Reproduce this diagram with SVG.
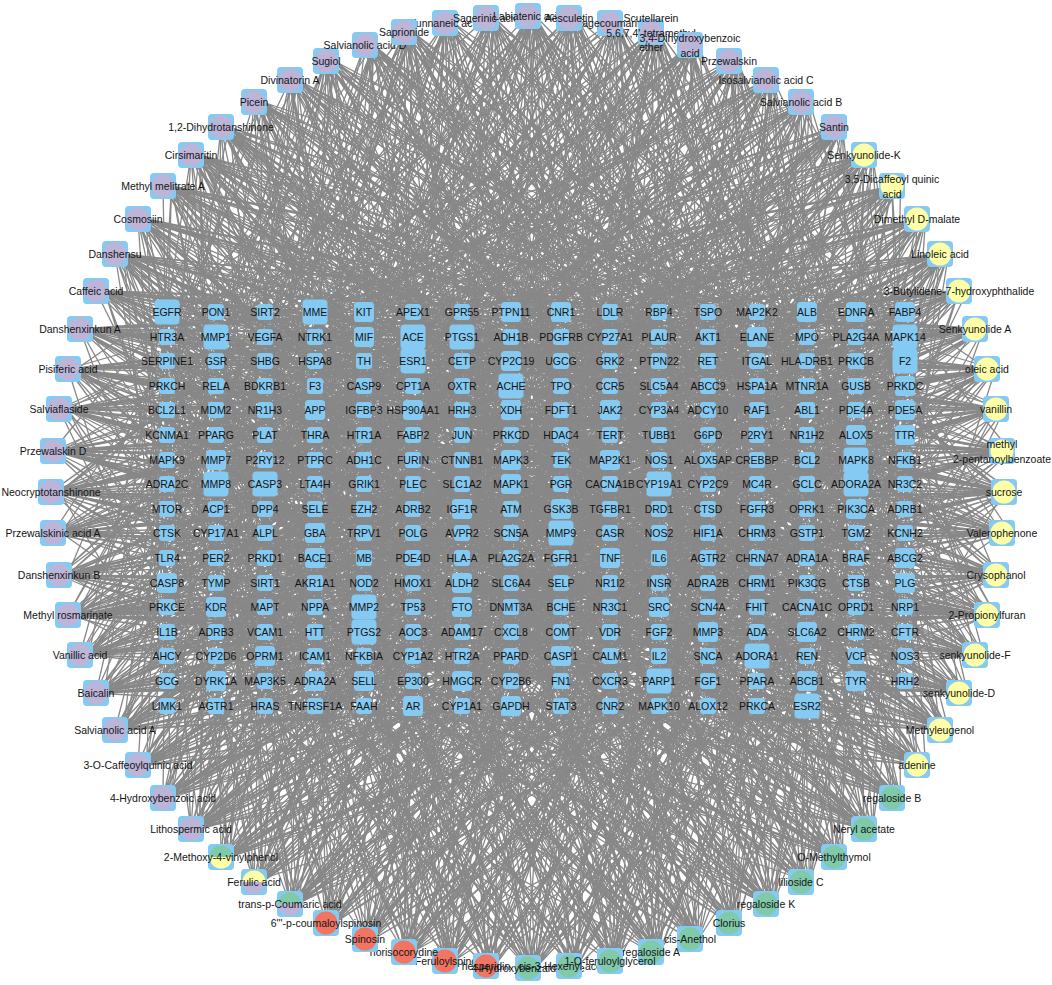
<svg xmlns="http://www.w3.org/2000/svg" xmlns:xlink="http://www.w3.org/1999/xlink" width="1052" height="985" viewBox="0 0 1052 985">
<style>
text{font-family:"Liberation Sans",Arial,sans-serif;font-size:10.5px;fill:#141414;text-anchor:middle;dominant-baseline:central}
.pu{fill:#bdb5d8}.ye{fill:#ffffa8}.gr{fill:#80c9a9}.rd{fill:#f27462}
</style>
<defs>
<rect id="bs" x="-8" y="-8" width="16" height="16" rx="3" fill="#84caf2"/>
<rect id="bm" x="-10" y="-10" width="20" height="20" rx="3.5" fill="#84caf2"/>
<rect id="bl" x="-12.5" y="-12.5" width="25" height="25" rx="4" fill="#84caf2"/>
<rect id="bo" x="-13" y="-13" width="26" height="26" rx="4" fill="#84caf2"/>
</defs>
<rect width="1052" height="985" fill="#fff"/>
<g id="edges">
<g id="e1" fill="none" stroke="#888" stroke-width="1.3" stroke-linejoin="round">
<path d="M528 16L216 337 528 16 364 312 528 16 462 361 528 16 561 410 528 16 659 337 528 16 807 386 528 16 905 435 528 16 757 484 528 16 610 533 528 16 511 460 528 16 413 509 528 16 315 583 528 16 167 632 528 16 265 681 528 16 708 558 528 16 856 607 528 16 561 706 528 16 462 632 528 16 659 410 528 16 364 386 528 16 807 312 528 16 905 583"/>
<path d="M569 18L265 312 569 18 413 337 569 18 561 312 569 18 708 337 569 18 856 361 569 18 167 386 569 18 315 410 569 18 462 435 569 18 610 460 569 18 757 509 569 18 905 484 569 18 216 533 569 18 364 558 569 18 511 583 569 18 659 607 569 18 807 656 569 18 167 681 569 18 315 706 569 18 462 681 569 18 610 656 569 18 856 533 569 18 708 435"/>
<path d="M610 23L315 312 610 23 462 312 610 23 610 312 610 23 807 337 610 23 905 410 610 23 167 337 610 23 216 410 610 23 364 484 610 23 511 509 610 23 659 460 610 23 856 386 610 23 757 558 610 23 561 607 610 23 413 632"/>
<path d="M651 32L364 337 651 32 511 337 651 32 659 361 651 32 856 312 651 32 757 361 651 32 216 361 651 32 167 435 651 32 265 460 651 32 413 533 651 32 561 558 651 32 708 583 651 32 856 558 651 32 905 533 651 32 807 460 651 32 610 410 651 32 462 484 651 32 315 558 651 32 167 607 651 32 216 656 651 32 364 632 651 32 561 681 651 32 757 706"/>
<path d="M690 45L413 312 690 45 561 361 690 45 708 312 690 45 905 361 690 45 807 410 690 45 265 386 690 45 216 435 690 45 315 484 690 45 462 509 690 45 610 484 690 45 757 533 690 45 856 656 690 45 905 607 690 45 708 681 690 45 511 656 690 45 364 706 690 45 265 632 690 45 167 583 690 45 216 558 690 45 413 583 690 45 610 632 690 45 807 583"/>
<path d="M729 61L462 312 729 61 610 337 729 61 757 337 729 61 856 410 729 61 708 386 729 61 315 361 729 61 167 361 729 61 216 460 729 61 364 509 729 61 511 533 729 61 659 558 729 61 807 509 729 61 905 460 729 61 807 706"/>
<path d="M766 80L511 337 766 80 659 312 766 80 807 361 766 80 905 337 766 80 561 386 766 80 364 361 766 80 265 337 766 80 167 410 766 80 315 435 766 80 413 460 766 80 462 533 766 80 610 509 766 80 757 460 766 80 856 509 766 80 905 558 766 80 708 607 766 80 561 583 766 80 413 607 766 80 265 558 766 80 216 632 766 80 364 681 766 80 511 706"/>
<path d="M801 102L167 312 801 102 315 337 801 102 413 386 801 102 511 312 801 102 610 361 801 102 757 410 801 102 905 312 801 102 856 460 801 102 659 509 801 102 462 558 801 102 265 607 801 102 364 460 801 102 561 435 801 102 708 632 801 102 807 533 801 102 216 484 801 102 511 681 801 102 610 583 801 102 413 706 801 102 905 386 801 102 167 558 801 102 757 656"/>
<path d="M834 127L216 337 834 127 364 312 834 127 462 361 834 127 561 410 834 127 659 337 834 127 807 386 834 127 905 435 834 127 757 484 834 127 610 533 834 127 511 460 834 127 413 509 834 127 315 583 834 127 167 632 834 127 265 681"/>
<path d="M864 155L265 312 864 155 413 337 864 155 561 312 864 155 708 337 864 155 856 361 864 155 167 386 864 155 315 410 864 155 462 435 864 155 610 460 864 155 757 509 864 155 905 484 864 155 216 533 864 155 364 558 864 155 511 583 864 155 659 607 864 155 807 656 864 155 167 681 864 155 315 706 864 155 462 681 864 155 610 656 864 155 856 533 864 155 708 435"/>
<path d="M892 186L315 312 892 186 462 312 892 186 610 312 892 186 807 337 892 186 905 410 892 186 167 337 892 186 216 410 892 186 364 484 892 186 511 509 892 186 659 460 892 186 856 386 892 186 757 558 892 186 561 607 892 186 413 632 892 186 265 656 892 186 216 706 892 186 659 706 892 186 807 607 892 186 905 656 892 186 511 386 892 186 364 533 892 186 708 509"/>
<path d="M917 219L364 337 917 219 511 337 917 219 659 361 917 219 856 312 917 219 757 361 917 219 216 361 917 219 167 435 917 219 265 460 917 219 413 533 917 219 561 558 917 219 708 583 917 219 856 558 917 219 905 533 917 219 807 460"/>
<path d="M940 254L413 312 940 254 561 361 940 254 708 312 940 254 905 361 940 254 807 410 940 254 265 386 940 254 216 435 940 254 315 484 940 254 462 509 940 254 610 484 940 254 757 533 940 254 856 656 940 254 905 607 940 254 708 681 940 254 511 656 940 254 364 706 940 254 265 632 940 254 167 583 940 254 216 558 940 254 413 583 940 254 610 632 940 254 807 583"/>
<path d="M959 291L462 312 959 291 610 337 959 291 757 337 959 291 856 410 959 291 708 386 959 291 315 361 959 291 167 361 959 291 216 460 959 291 364 509 959 291 511 533 959 291 659 558 959 291 807 509 959 291 905 460 959 291 807 706 959 291 561 632 959 291 413 656 959 291 265 583 959 291 167 656 959 291 315 632 959 291 462 607 959 291 610 607 959 291 757 583"/>
<path d="M975 329L511 337 975 329 659 312 975 329 807 361 975 329 905 337 975 329 561 386 975 329 364 361 975 329 265 337 975 329 167 410 975 329 315 435 975 329 413 460 975 329 462 533 975 329 610 509 975 329 757 460 975 329 856 509"/>
<path d="M987 369L167 312 987 369 315 337 987 369 413 386 987 369 511 312 987 369 610 361 987 369 757 410 987 369 905 312 987 369 856 460 987 369 659 509 987 369 462 558 987 369 265 607 987 369 364 460 987 369 561 435 987 369 708 632 987 369 807 533 987 369 216 484 987 369 511 681 987 369 610 583 987 369 413 706 987 369 905 386 987 369 167 558 987 369 757 656"/>
<path d="M996 409L216 337 996 409 364 312 996 409 462 361 996 409 561 410 996 409 659 337 996 409 807 386 996 409 905 435 996 409 757 484 996 409 610 533 996 409 511 460 996 409 413 509 996 409 315 583 996 409 167 632 996 409 265 681 996 409 708 558 996 409 856 607 996 409 561 706 996 409 462 632 996 409 659 410 996 409 364 386 996 409 807 312 996 409 905 583"/>
<path d="M1002 451L265 312 1002 451 413 337 1002 451 561 312 1002 451 708 337 1002 451 856 361 1002 451 167 386 1002 451 315 410 1002 451 462 435 1002 451 610 460 1002 451 757 509 1002 451 905 484 1002 451 216 533 1002 451 364 558 1002 451 511 583"/>
<path d="M1004 492L315 312 1004 492 462 312 1004 492 610 312 1004 492 807 337 1004 492 905 410 1004 492 167 337 1004 492 216 410 1004 492 364 484 1004 492 511 509 1004 492 659 460 1004 492 856 386 1004 492 757 558 1004 492 561 607 1004 492 413 632 1004 492 265 656 1004 492 216 706 1004 492 659 706 1004 492 807 607 1004 492 905 656 1004 492 511 386 1004 492 364 533 1004 492 708 509"/>
<path d="M1002 533L364 337 1002 533 511 337 1002 533 659 361 1002 533 856 312 1002 533 757 361 1002 533 216 361 1002 533 167 435 1002 533 265 460 1002 533 413 533 1002 533 561 558 1002 533 708 583 1002 533 856 558 1002 533 905 533 1002 533 807 460 1002 533 610 410 1002 533 462 484 1002 533 315 558 1002 533 167 607 1002 533 216 656 1002 533 364 632 1002 533 561 681 1002 533 757 706"/>
<path d="M996 575L413 312 996 575 561 361 996 575 708 312 996 575 905 361 996 575 807 410 996 575 265 386 996 575 216 435 996 575 315 484 996 575 462 509 996 575 610 484 996 575 757 533 996 575 856 656 996 575 905 607 996 575 708 681"/>
<path d="M987 615L462 312 987 615 610 337 987 615 757 337 987 615 856 410 987 615 708 386 987 615 315 361 987 615 167 361 987 615 216 460 987 615 364 509 987 615 511 533 987 615 659 558 987 615 807 509 987 615 905 460 987 615 807 706 987 615 561 632 987 615 413 656 987 615 265 583 987 615 167 656 987 615 315 632 987 615 462 607 987 615 610 607 987 615 757 583"/>
<path d="M975 655L511 337 975 655 659 312 975 655 807 361 975 655 905 337 975 655 561 386 975 655 364 361 975 655 265 337 975 655 167 410 975 655 315 435 975 655 413 460 975 655 462 533 975 655 610 509 975 655 757 460 975 655 856 509 975 655 905 558 975 655 708 607 975 655 561 583 975 655 413 607 975 655 265 558 975 655 216 632 975 655 364 681 975 655 511 706"/>
<path d="M959 693L167 312 959 693 315 337 959 693 413 386 959 693 511 312 959 693 610 361 959 693 757 410 959 693 905 312 959 693 856 460 959 693 659 509 959 693 462 558 959 693 265 607 959 693 364 460 959 693 561 435 959 693 708 632"/>
<path d="M940 730L216 337 940 730 364 312 940 730 462 361 940 730 561 410 940 730 659 337 940 730 807 386 940 730 905 435 940 730 757 484 940 730 610 533 940 730 511 460 940 730 413 509 940 730 315 583 940 730 167 632 940 730 265 681 940 730 708 558 940 730 856 607 940 730 561 706 940 730 462 632 940 730 659 410 940 730 364 386 940 730 807 312 940 730 905 583"/>
<path d="M917 765L265 312 917 765 413 337 917 765 561 312 917 765 708 337 917 765 856 361 917 765 167 386 917 765 315 410 917 765 462 435 917 765 610 460 917 765 757 509 917 765 905 484 917 765 216 533 917 765 364 558 917 765 511 583 917 765 659 607 917 765 807 656 917 765 167 681 917 765 315 706 917 765 462 681 917 765 610 656 917 765 856 533 917 765 708 435"/>
<path d="M892 798L315 312 892 798 462 312 892 798 610 312 892 798 807 337 892 798 905 410 892 798 167 337 892 798 216 410 892 798 364 484 892 798 511 509 892 798 659 460 892 798 856 386 892 798 757 558 892 798 561 607 892 798 413 632"/>
<path d="M864 829L364 337 864 829 511 337 864 829 659 361 864 829 856 312 864 829 757 361 864 829 216 361 864 829 167 435 864 829 265 460 864 829 413 533 864 829 561 558 864 829 708 583 864 829 856 558 864 829 905 533 864 829 807 460 864 829 610 410 864 829 462 484 864 829 315 558 864 829 167 607 864 829 216 656 864 829 364 632 864 829 561 681 864 829 757 706"/>
<path d="M834 857L413 312 834 857 561 361 834 857 708 312 834 857 905 361 834 857 807 410 834 857 265 386 834 857 216 435 834 857 315 484 834 857 462 509 834 857 610 484 834 857 757 533 834 857 856 656 834 857 905 607 834 857 708 681 834 857 511 656 834 857 364 706 834 857 265 632 834 857 167 583 834 857 216 558 834 857 413 583 834 857 610 632 834 857 807 583"/>
<path d="M801 882L462 312 801 882 610 337 801 882 757 337 801 882 856 410 801 882 708 386 801 882 315 361 801 882 167 361 801 882 216 460 801 882 364 509 801 882 511 533 801 882 659 558 801 882 807 509 801 882 905 460 801 882 807 706"/>
<path d="M766 904L511 337 766 904 659 312 766 904 807 361 766 904 905 337 766 904 561 386 766 904 364 361 766 904 265 337 766 904 167 410 766 904 315 435 766 904 413 460 766 904 462 533 766 904 610 509 766 904 757 460 766 904 856 509 766 904 905 558 766 904 708 607 766 904 561 583 766 904 413 607 766 904 265 558 766 904 216 632 766 904 364 681 766 904 511 706"/>
<path d="M729 923L167 312 729 923 315 337 729 923 413 386 729 923 511 312 729 923 610 361 729 923 757 410 729 923 905 312 729 923 856 460 729 923 659 509 729 923 462 558 729 923 265 607 729 923 364 460 729 923 561 435 729 923 708 632 729 923 807 533 729 923 216 484 729 923 511 681 729 923 610 583 729 923 413 706 729 923 905 386 729 923 167 558 729 923 757 656"/>
<path d="M690 939L216 337 690 939 364 312 690 939 462 361 690 939 561 410 690 939 659 337 690 939 807 386 690 939 905 435 690 939 757 484 690 939 610 533 690 939 511 460 690 939 413 509 690 939 315 583 690 939 167 632 690 939 265 681"/>
<path d="M651 952L265 312 651 952 413 337 651 952 561 312 651 952 708 337 651 952 856 361 651 952 167 386 651 952 315 410 651 952 462 435 651 952 610 460 651 952 757 509 651 952 905 484 651 952 216 533 651 952 364 558 651 952 511 583 651 952 659 607 651 952 807 656 651 952 167 681 651 952 315 706 651 952 462 681 651 952 610 656 651 952 856 533 651 952 708 435"/>
<path d="M610 961L315 312 610 961 462 312 610 961 610 312 610 961 807 337 610 961 905 410 610 961 167 337 610 961 216 410 610 961 364 484 610 961 511 509 610 961 659 460 610 961 856 386 610 961 757 558 610 961 561 607 610 961 413 632 610 961 265 656 610 961 216 706 610 961 659 706 610 961 807 607 610 961 905 656 610 961 511 386 610 961 364 533 610 961 708 509"/>
<path d="M569 966L364 337 569 966 511 337 569 966 659 361 569 966 856 312 569 966 757 361 569 966 216 361 569 966 167 435 569 966 265 460 569 966 413 533 569 966 561 558 569 966 708 583 569 966 856 558 569 966 905 533 569 966 807 460"/>
<path d="M528 968L413 312 528 968 561 361 528 968 708 312 528 968 905 361 528 968 807 410 528 968 265 386 528 968 216 435 528 968 315 484 528 968 462 509 528 968 610 484 528 968 757 533 528 968 856 656 528 968 905 607 528 968 708 681 528 968 511 656 528 968 364 706 528 968 265 632 528 968 167 583 528 968 216 558 528 968 413 583 528 968 610 632 528 968 807 583"/>
<path d="M486 966L462 312 486 966 610 337 486 966 757 337 486 966 856 410 486 966 708 386 486 966 315 361 486 966 167 361 486 966 216 460 486 966 364 509 486 966 511 533 486 966 659 558 486 966 807 509 486 966 905 460 486 966 807 706 486 966 561 632 486 966 413 656 486 966 265 583 486 966 167 656 486 966 315 632 486 966 462 607 486 966 610 607 486 966 757 583"/>
<path d="M445 961L511 337 445 961 659 312 445 961 807 361 445 961 905 337 445 961 561 386 445 961 364 361 445 961 265 337 445 961 167 410 445 961 315 435 445 961 413 460 445 961 462 533 445 961 610 509 445 961 757 460 445 961 856 509"/>
<path d="M404 952L167 312 404 952 315 337 404 952 413 386 404 952 511 312 404 952 610 361 404 952 757 410 404 952 905 312 404 952 856 460 404 952 659 509 404 952 462 558 404 952 265 607 404 952 364 460 404 952 561 435 404 952 708 632 404 952 807 533 404 952 216 484 404 952 511 681 404 952 610 583 404 952 413 706 404 952 905 386 404 952 167 558 404 952 757 656"/>
<path d="M365 939L216 337 365 939 364 312 365 939 462 361 365 939 561 410 365 939 659 337 365 939 807 386 365 939 905 435 365 939 757 484 365 939 610 533 365 939 511 460 365 939 413 509 365 939 315 583 365 939 167 632 365 939 265 681 365 939 708 558 365 939 856 607 365 939 561 706 365 939 462 632 365 939 659 410 365 939 364 386 365 939 807 312 365 939 905 583"/>
<path d="M326 923L265 312 326 923 413 337 326 923 561 312 326 923 708 337 326 923 856 361 326 923 167 386 326 923 315 410 326 923 462 435 326 923 610 460 326 923 757 509 326 923 905 484 326 923 216 533 326 923 364 558 326 923 511 583"/>
<path d="M290 904L315 312 290 904 462 312 290 904 610 312 290 904 807 337 290 904 905 410 290 904 167 337 290 904 216 410 290 904 364 484 290 904 511 509 290 904 659 460 290 904 856 386 290 904 757 558 290 904 561 607 290 904 413 632 290 904 265 656 290 904 216 706 290 904 659 706 290 904 807 607 290 904 905 656 290 904 511 386 290 904 364 533 290 904 708 509"/>
<path d="M254 882L364 337 254 882 511 337 254 882 659 361 254 882 856 312 254 882 757 361 254 882 216 361 254 882 167 435 254 882 265 460 254 882 413 533 254 882 561 558 254 882 708 583 254 882 856 558 254 882 905 533 254 882 807 460 254 882 610 410 254 882 462 484 254 882 315 558 254 882 167 607 254 882 216 656 254 882 364 632 254 882 561 681 254 882 757 706"/>
<path d="M221 857L413 312 221 857 561 361 221 857 708 312 221 857 905 361 221 857 807 410 221 857 265 386 221 857 216 435 221 857 315 484 221 857 462 509 221 857 610 484 221 857 757 533 221 857 856 656 221 857 905 607 221 857 708 681"/>
<path d="M191 829L462 312 191 829 610 337 191 829 757 337 191 829 856 410 191 829 708 386 191 829 315 361 191 829 167 361 191 829 216 460 191 829 364 509 191 829 511 533 191 829 659 558 191 829 807 509 191 829 905 460 191 829 807 706 191 829 561 632 191 829 413 656 191 829 265 583 191 829 167 656 191 829 315 632 191 829 462 607 191 829 610 607 191 829 757 583"/>
<path d="M163 798L511 337 163 798 659 312 163 798 807 361 163 798 905 337 163 798 561 386 163 798 364 361 163 798 265 337 163 798 167 410 163 798 315 435 163 798 413 460 163 798 462 533 163 798 610 509 163 798 757 460 163 798 856 509 163 798 905 558 163 798 708 607 163 798 561 583 163 798 413 607 163 798 265 558 163 798 216 632 163 798 364 681 163 798 511 706"/>
<path d="M138 765L167 312 138 765 315 337 138 765 413 386 138 765 511 312 138 765 610 361 138 765 757 410 138 765 905 312 138 765 856 460 138 765 659 509 138 765 462 558 138 765 265 607 138 765 364 460 138 765 561 435 138 765 708 632"/>
<path d="M115 730L216 337 115 730 364 312 115 730 462 361 115 730 561 410 115 730 659 337 115 730 807 386 115 730 905 435 115 730 757 484 115 730 610 533 115 730 511 460 115 730 413 509 115 730 315 583 115 730 167 632 115 730 265 681 115 730 708 558 115 730 856 607 115 730 561 706 115 730 462 632 115 730 659 410 115 730 364 386 115 730 807 312 115 730 905 583"/>
<path d="M96 693L265 312 96 693 413 337 96 693 561 312 96 693 708 337 96 693 856 361 96 693 167 386 96 693 315 410 96 693 462 435 96 693 610 460 96 693 757 509 96 693 905 484 96 693 216 533 96 693 364 558 96 693 511 583 96 693 659 607 96 693 807 656 96 693 167 681 96 693 315 706 96 693 462 681 96 693 610 656 96 693 856 533 96 693 708 435"/>
<path d="M80 655L315 312 80 655 462 312 80 655 610 312 80 655 807 337 80 655 905 410 80 655 167 337 80 655 216 410 80 655 364 484 80 655 511 509 80 655 659 460 80 655 856 386 80 655 757 558 80 655 561 607 80 655 413 632"/>
<path d="M68 615L364 337 68 615 511 337 68 615 659 361 68 615 856 312 68 615 757 361 68 615 216 361 68 615 167 435 68 615 265 460 68 615 413 533 68 615 561 558 68 615 708 583 68 615 856 558 68 615 905 533 68 615 807 460 68 615 610 410 68 615 462 484 68 615 315 558 68 615 167 607 68 615 216 656 68 615 364 632 68 615 561 681 68 615 757 706"/>
<path d="M59 575L413 312 59 575 561 361 59 575 708 312 59 575 905 361 59 575 807 410 59 575 265 386 59 575 216 435 59 575 315 484 59 575 462 509 59 575 610 484 59 575 757 533 59 575 856 656 59 575 905 607 59 575 708 681 59 575 511 656 59 575 364 706 59 575 265 632 59 575 167 583 59 575 216 558 59 575 413 583 59 575 610 632 59 575 807 583"/>
<path d="M53 533L462 312 53 533 610 337 53 533 757 337 53 533 856 410 53 533 708 386 53 533 315 361 53 533 167 361 53 533 216 460 53 533 364 509 53 533 511 533 53 533 659 558 53 533 807 509 53 533 905 460 53 533 807 706"/>
<path d="M51 492L511 337 51 492 659 312 51 492 807 361 51 492 905 337 51 492 561 386 51 492 364 361 51 492 265 337 51 492 167 410 51 492 315 435 51 492 413 460 51 492 462 533 51 492 610 509 51 492 757 460 51 492 856 509 51 492 905 558 51 492 708 607 51 492 561 583 51 492 413 607 51 492 265 558 51 492 216 632 51 492 364 681 51 492 511 706"/>
<path d="M53 451L167 312 53 451 315 337 53 451 413 386 53 451 511 312 53 451 610 361 53 451 757 410 53 451 905 312 53 451 856 460 53 451 659 509 53 451 462 558 53 451 265 607 53 451 364 460 53 451 561 435 53 451 708 632 53 451 807 533 53 451 216 484 53 451 511 681 53 451 610 583 53 451 413 706 53 451 905 386 53 451 167 558 53 451 757 656"/>
<path d="M59 409L216 337 59 409 364 312 59 409 462 361 59 409 561 410 59 409 659 337 59 409 807 386 59 409 905 435 59 409 757 484 59 409 610 533 59 409 511 460 59 409 413 509 59 409 315 583 59 409 167 632 59 409 265 681"/>
<path d="M68 369L265 312 68 369 413 337 68 369 561 312 68 369 708 337 68 369 856 361 68 369 167 386 68 369 315 410 68 369 462 435 68 369 610 460 68 369 757 509 68 369 905 484 68 369 216 533 68 369 364 558 68 369 511 583 68 369 659 607 68 369 807 656 68 369 167 681 68 369 315 706 68 369 462 681 68 369 610 656 68 369 856 533 68 369 708 435"/>
<path d="M80 329L315 312 80 329 462 312 80 329 610 312 80 329 807 337 80 329 905 410 80 329 167 337 80 329 216 410 80 329 364 484 80 329 511 509 80 329 659 460 80 329 856 386 80 329 757 558 80 329 561 607 80 329 413 632 80 329 265 656 80 329 216 706 80 329 659 706 80 329 807 607 80 329 905 656 80 329 511 386 80 329 364 533 80 329 708 509"/>
<path d="M96 291L364 337 96 291 511 337 96 291 659 361 96 291 856 312 96 291 757 361 96 291 216 361 96 291 167 435 96 291 265 460 96 291 413 533 96 291 561 558 96 291 708 583 96 291 856 558 96 291 905 533 96 291 807 460"/>
<path d="M115 254L413 312 115 254 561 361 115 254 708 312 115 254 905 361 115 254 807 410 115 254 265 386 115 254 216 435 115 254 315 484 115 254 462 509 115 254 610 484 115 254 757 533 115 254 856 656 115 254 905 607 115 254 708 681 115 254 511 656 115 254 364 706 115 254 265 632 115 254 167 583 115 254 216 558 115 254 413 583 115 254 610 632 115 254 807 583"/>
<path d="M138 219L462 312 138 219 610 337 138 219 757 337 138 219 856 410 138 219 708 386 138 219 315 361 138 219 167 361 138 219 216 460 138 219 364 509 138 219 511 533 138 219 659 558 138 219 807 509 138 219 905 460 138 219 807 706 138 219 561 632 138 219 413 656 138 219 265 583 138 219 167 656 138 219 315 632 138 219 462 607 138 219 610 607 138 219 757 583"/>
<path d="M163 186L511 337 163 186 659 312 163 186 807 361 163 186 905 337 163 186 561 386 163 186 364 361 163 186 265 337 163 186 167 410 163 186 315 435 163 186 413 460 163 186 462 533 163 186 610 509 163 186 757 460 163 186 856 509"/>
<path d="M191 155L167 312 191 155 315 337 191 155 413 386 191 155 511 312 191 155 610 361 191 155 757 410 191 155 905 312 191 155 856 460 191 155 659 509 191 155 462 558 191 155 265 607 191 155 364 460 191 155 561 435 191 155 708 632 191 155 807 533 191 155 216 484 191 155 511 681 191 155 610 583 191 155 413 706 191 155 905 386 191 155 167 558 191 155 757 656"/>
<path d="M221 127L216 337 221 127 364 312 221 127 462 361 221 127 561 410 221 127 659 337 221 127 807 386 221 127 905 435 221 127 757 484 221 127 610 533 221 127 511 460 221 127 413 509 221 127 315 583 221 127 167 632 221 127 265 681 221 127 708 558 221 127 856 607 221 127 561 706 221 127 462 632 221 127 659 410 221 127 364 386 221 127 807 312 221 127 905 583"/>
<path d="M254 102L265 312 254 102 413 337 254 102 561 312 254 102 708 337 254 102 856 361 254 102 167 386 254 102 315 410 254 102 462 435 254 102 610 460 254 102 757 509 254 102 905 484 254 102 216 533 254 102 364 558 254 102 511 583"/>
<path d="M290 80L315 312 290 80 462 312 290 80 610 312 290 80 807 337 290 80 905 410 290 80 167 337 290 80 216 410 290 80 364 484 290 80 511 509 290 80 659 460 290 80 856 386 290 80 757 558 290 80 561 607 290 80 413 632 290 80 265 656 290 80 216 706 290 80 659 706 290 80 807 607 290 80 905 656 290 80 511 386 290 80 364 533 290 80 708 509"/>
<path d="M326 61L364 337 326 61 511 337 326 61 659 361 326 61 856 312 326 61 757 361 326 61 216 361 326 61 167 435 326 61 265 460 326 61 413 533 326 61 561 558 326 61 708 583 326 61 856 558 326 61 905 533 326 61 807 460 326 61 610 410 326 61 462 484 326 61 315 558 326 61 167 607 326 61 216 656 326 61 364 632 326 61 561 681 326 61 757 706"/>
<path d="M365 45L413 312 365 45 561 361 365 45 708 312 365 45 905 361 365 45 807 410 365 45 265 386 365 45 216 435 365 45 315 484 365 45 462 509 365 45 610 484 365 45 757 533 365 45 856 656 365 45 905 607 365 45 708 681"/>
<path d="M404 32L462 312 404 32 610 337 404 32 757 337 404 32 856 410 404 32 708 386 404 32 315 361 404 32 167 361 404 32 216 460 404 32 364 509 404 32 511 533 404 32 659 558 404 32 807 509 404 32 905 460 404 32 807 706 404 32 561 632 404 32 413 656 404 32 265 583 404 32 167 656 404 32 315 632 404 32 462 607 404 32 610 607 404 32 757 583"/>
<path d="M445 23L511 337 445 23 659 312 445 23 807 361 445 23 905 337 445 23 561 386 445 23 364 361 445 23 265 337 445 23 167 410 445 23 315 435 445 23 413 460 445 23 462 533 445 23 610 509 445 23 757 460 445 23 856 509 445 23 905 558 445 23 708 607 445 23 561 583 445 23 413 607 445 23 265 558 445 23 216 632 445 23 364 681 445 23 511 706"/>
<path d="M486 18L167 312 486 18 315 337 486 18 413 386 486 18 511 312 486 18 610 361 486 18 757 410 486 18 905 312 486 18 856 460 486 18 659 509 486 18 462 558 486 18 265 607 486 18 364 460 486 18 561 435 486 18 708 632"/>
</g>
<use href="#e1" transform="matrix(-1 0 0 1 1063.5 0)"/>
</g>
<g id="targets">
<g id="t-EGFR" transform="translate(167 312)"><use href="#bl"/><text>EGFR</text></g>
<g id="t-PON1" transform="translate(216 312)"><use href="#bs"/><text>PON1</text></g>
<g id="t-SIRT2" transform="translate(265 312)"><use href="#bs"/><text>SIRT2</text></g>
<g id="t-MME" transform="translate(315 312)"><use href="#bl"/><text>MME</text></g>
<g id="t-KIT" transform="translate(364 312)"><use href="#bm"/><text>KIT</text></g>
<g id="t-APEX1" transform="translate(413 312)"><use href="#bs"/><text>APEX1</text></g>
<g id="t-GPR55" transform="translate(462 312)"><use href="#bs"/><text>GPR55</text></g>
<g id="t-PTPN11" transform="translate(511 312)"><use href="#bm"/><text>PTPN11</text></g>
<g id="t-CNR1" transform="translate(561 312)"><use href="#bm"/><text>CNR1</text></g>
<g id="t-LDLR" transform="translate(610 312)"><use href="#bs"/><text>LDLR</text></g>
<g id="t-RBP4" transform="translate(659 312)"><use href="#bs"/><text>RBP4</text></g>
<g id="t-TSPO" transform="translate(708 312)"><use href="#bs"/><text>TSPO</text></g>
<g id="t-MAP2K2" transform="translate(757 312)"><use href="#bs"/><text>MAP2K2</text></g>
<g id="t-ALB" transform="translate(807 312)"><use href="#bm"/><text>ALB</text></g>
<g id="t-EDNRA" transform="translate(856 312)"><use href="#bm"/><text>EDNRA</text></g>
<g id="t-FABP4" transform="translate(905 312)"><use href="#bm"/><text>FABP4</text></g>
<g id="t-HTR3A" transform="translate(167 337)"><use href="#bs"/><text>HTR3A</text></g>
<g id="t-MMP1" transform="translate(216 337)"><use href="#bl"/><text>MMP1</text></g>
<g id="t-VEGFA" transform="translate(265 337)"><use href="#bs"/><text>VEGFA</text></g>
<g id="t-NTRK1" transform="translate(315 337)"><use href="#bs"/><text>NTRK1</text></g>
<g id="t-MIF" transform="translate(364 337)"><use href="#bm"/><text>MIF</text></g>
<g id="t-ACE" transform="translate(413 337)"><use href="#bl"/><text>ACE</text></g>
<g id="t-PTGS1" transform="translate(462 337)"><use href="#bl"/><text>PTGS1</text></g>
<g id="t-ADH1B" transform="translate(511 337)"><use href="#bs"/><text>ADH1B</text></g>
<g id="t-PDGFRB" transform="translate(561 337)"><use href="#bs"/><text>PDGFRB</text></g>
<g id="t-CYP27A1" transform="translate(610 337)"><use href="#bs"/><text>CYP27A1</text></g>
<g id="t-PLAUR" transform="translate(659 337)"><use href="#bs"/><text>PLAUR</text></g>
<g id="t-AKT1" transform="translate(708 337)"><use href="#bs"/><text>AKT1</text></g>
<g id="t-ELANE" transform="translate(757 337)"><use href="#bm"/><text>ELANE</text></g>
<g id="t-MPO" transform="translate(807 337)"><use href="#bs"/><text>MPO</text></g>
<g id="t-PLA2G4A" transform="translate(856 337)"><use href="#bs"/><text>PLA2G4A</text></g>
<g id="t-MAPK14" transform="translate(905 337)"><use href="#bl"/><text>MAPK14</text></g>
<g id="t-SERPINE1" transform="translate(167 361)"><use href="#bs"/><text>SERPINE1</text></g>
<g id="t-GSR" transform="translate(216 361)"><use href="#bs"/><text>GSR</text></g>
<g id="t-SHBG" transform="translate(265 361)"><use href="#bs"/><text>SHBG</text></g>
<g id="t-HSPA8" transform="translate(315 361)"><use href="#bs"/><text>HSPA8</text></g>
<g id="t-TH" transform="translate(364 361)"><use href="#bs"/><text>TH</text></g>
<g id="t-ESR1" transform="translate(413 361)"><use href="#bl"/><text>ESR1</text></g>
<g id="t-CETP" transform="translate(462 361)"><use href="#bs"/><text>CETP</text></g>
<g id="t-CYP2C19" transform="translate(511 361)"><use href="#bm"/><text>CYP2C19</text></g>
<g id="t-UGCG" transform="translate(561 361)"><use href="#bs"/><text>UGCG</text></g>
<g id="t-GRK2" transform="translate(610 361)"><use href="#bs"/><text>GRK2</text></g>
<g id="t-PTPN22" transform="translate(659 361)"><use href="#bs"/><text>PTPN22</text></g>
<g id="t-RET" transform="translate(708 361)"><use href="#bs"/><text>RET</text></g>
<g id="t-ITGAL" transform="translate(757 361)"><use href="#bs"/><text>ITGAL</text></g>
<g id="t-HLA-DRB1" transform="translate(807 361)"><use href="#bs"/><text>HLA-DRB1</text></g>
<g id="t-PRKCB" transform="translate(856 361)"><use href="#bs"/><text>PRKCB</text></g>
<g id="t-F2" transform="translate(905 361)"><use href="#bl"/><text>F2</text></g>
<g id="t-PRKCH" transform="translate(167 386)"><use href="#bs"/><text>PRKCH</text></g>
<g id="t-RELA" transform="translate(216 386)"><use href="#bs"/><text>RELA</text></g>
<g id="t-BDKRB1" transform="translate(265 386)"><use href="#bs"/><text>BDKRB1</text></g>
<g id="t-F3" transform="translate(315 386)"><use href="#bs"/><text>F3</text></g>
<g id="t-CASP9" transform="translate(364 386)"><use href="#bs"/><text>CASP9</text></g>
<g id="t-CPT1A" transform="translate(413 386)"><use href="#bs"/><text>CPT1A</text></g>
<g id="t-OXTR" transform="translate(462 386)"><use href="#bs"/><text>OXTR</text></g>
<g id="t-ACHE" transform="translate(511 386)"><use href="#bl"/><text>ACHE</text></g>
<g id="t-TPO" transform="translate(561 386)"><use href="#bs"/><text>TPO</text></g>
<g id="t-CCR5" transform="translate(610 386)"><use href="#bs"/><text>CCR5</text></g>
<g id="t-SLC5A4" transform="translate(659 386)"><use href="#bs"/><text>SLC5A4</text></g>
<g id="t-ABCC9" transform="translate(708 386)"><use href="#bs"/><text>ABCC9</text></g>
<g id="t-HSPA1A" transform="translate(757 386)"><use href="#bs"/><text>HSPA1A</text></g>
<g id="t-MTNR1A" transform="translate(807 386)"><use href="#bs"/><text>MTNR1A</text></g>
<g id="t-GUSB" transform="translate(856 386)"><use href="#bs"/><text>GUSB</text></g>
<g id="t-PRKDC" transform="translate(905 386)"><use href="#bm"/><text>PRKDC</text></g>
<g id="t-BCL2L1" transform="translate(167 410)"><use href="#bs"/><text>BCL2L1</text></g>
<g id="t-MDM2" transform="translate(216 410)"><use href="#bs"/><text>MDM2</text></g>
<g id="t-NR1H3" transform="translate(265 410)"><use href="#bs"/><text>NR1H3</text></g>
<g id="t-APP" transform="translate(315 410)"><use href="#bm"/><text>APP</text></g>
<g id="t-IGFBP3" transform="translate(364 410)"><use href="#bs"/><text>IGFBP3</text></g>
<g id="t-HSP90AA1" transform="translate(413 410)"><use href="#bm"/><text>HSP90AA1</text></g>
<g id="t-HRH3" transform="translate(462 410)"><use href="#bs"/><text>HRH3</text></g>
<g id="t-XDH" transform="translate(511 410)"><use href="#bm"/><text>XDH</text></g>
<g id="t-FDFT1" transform="translate(561 410)"><use href="#bs"/><text>FDFT1</text></g>
<g id="t-JAK2" transform="translate(610 410)"><use href="#bm"/><text>JAK2</text></g>
<g id="t-CYP3A4" transform="translate(659 410)"><use href="#bs"/><text>CYP3A4</text></g>
<g id="t-ADCY10" transform="translate(708 410)"><use href="#bs"/><text>ADCY10</text></g>
<g id="t-RAF1" transform="translate(757 410)"><use href="#bs"/><text>RAF1</text></g>
<g id="t-ABL1" transform="translate(807 410)"><use href="#bs"/><text>ABL1</text></g>
<g id="t-PDE4A" transform="translate(856 410)"><use href="#bs"/><text>PDE4A</text></g>
<g id="t-PDE5A" transform="translate(905 410)"><use href="#bm"/><text>PDE5A</text></g>
<g id="t-KCNMA1" transform="translate(167 435)"><use href="#bs"/><text>KCNMA1</text></g>
<g id="t-PPARG" transform="translate(216 435)"><use href="#bs"/><text>PPARG</text></g>
<g id="t-PLAT" transform="translate(265 435)"><use href="#bs"/><text>PLAT</text></g>
<g id="t-THRA" transform="translate(315 435)"><use href="#bs"/><text>THRA</text></g>
<g id="t-HTR1A" transform="translate(364 435)"><use href="#bs"/><text>HTR1A</text></g>
<g id="t-FABP2" transform="translate(413 435)"><use href="#bs"/><text>FABP2</text></g>
<g id="t-JUN" transform="translate(462 435)"><use href="#bs"/><text>JUN</text></g>
<g id="t-PRKCD" transform="translate(511 435)"><use href="#bs"/><text>PRKCD</text></g>
<g id="t-HDAC4" transform="translate(561 435)"><use href="#bs"/><text>HDAC4</text></g>
<g id="t-TERT" transform="translate(610 435)"><use href="#bs"/><text>TERT</text></g>
<g id="t-TUBB1" transform="translate(659 435)"><use href="#bs"/><text>TUBB1</text></g>
<g id="t-G6PD" transform="translate(708 435)"><use href="#bs"/><text>G6PD</text></g>
<g id="t-P2RY1" transform="translate(757 435)"><use href="#bs"/><text>P2RY1</text></g>
<g id="t-NR1H2" transform="translate(807 435)"><use href="#bs"/><text>NR1H2</text></g>
<g id="t-ALOX5" transform="translate(856 435)"><use href="#bm"/><text>ALOX5</text></g>
<g id="t-TTR" transform="translate(905 435)"><use href="#bm"/><text>TTR</text></g>
<g id="t-MAPK9" transform="translate(167 460)"><use href="#bs"/><text>MAPK9</text></g>
<g id="t-MMP7" transform="translate(216 460)"><use href="#bm"/><text>MMP7</text></g>
<g id="t-P2RY12" transform="translate(265 460)"><use href="#bs"/><text>P2RY12</text></g>
<g id="t-PTPRC" transform="translate(315 460)"><use href="#bs"/><text>PTPRC</text></g>
<g id="t-ADH1C" transform="translate(364 460)"><use href="#bs"/><text>ADH1C</text></g>
<g id="t-FURIN" transform="translate(413 460)"><use href="#bs"/><text>FURIN</text></g>
<g id="t-CTNNB1" transform="translate(462 460)"><use href="#bs"/><text>CTNNB1</text></g>
<g id="t-MAPK3" transform="translate(511 460)"><use href="#bm"/><text>MAPK3</text></g>
<g id="t-TEK" transform="translate(561 460)"><use href="#bs"/><text>TEK</text></g>
<g id="t-MAP2K1" transform="translate(610 460)"><use href="#bm"/><text>MAP2K1</text></g>
<g id="t-NOS1" transform="translate(659 460)"><use href="#bs"/><text>NOS1</text></g>
<g id="t-ALOX5AP" transform="translate(708 460)"><use href="#bs"/><text>ALOX5AP</text></g>
<g id="t-CREBBP" transform="translate(757 460)"><use href="#bs"/><text>CREBBP</text></g>
<g id="t-BCL2" transform="translate(807 460)"><use href="#bs"/><text>BCL2</text></g>
<g id="t-MAPK8" transform="translate(856 460)"><use href="#bl"/><text>MAPK8</text></g>
<g id="t-NFKB1" transform="translate(905 460)"><use href="#bs"/><text>NFKB1</text></g>
<g id="t-ADRA2C" transform="translate(167 484)"><use href="#bs"/><text>ADRA2C</text></g>
<g id="t-MMP8" transform="translate(216 484)"><use href="#bl"/><text>MMP8</text></g>
<g id="t-CASP3" transform="translate(265 484)"><use href="#bl"/><text>CASP3</text></g>
<g id="t-LTA4H" transform="translate(315 484)"><use href="#bs"/><text>LTA4H</text></g>
<g id="t-GRIK1" transform="translate(364 484)"><use href="#bs"/><text>GRIK1</text></g>
<g id="t-PLEC" transform="translate(413 484)"><use href="#bs"/><text>PLEC</text></g>
<g id="t-SLC1A2" transform="translate(462 484)"><use href="#bs"/><text>SLC1A2</text></g>
<g id="t-MAPK1" transform="translate(511 484)"><use href="#bm"/><text>MAPK1</text></g>
<g id="t-PGR" transform="translate(561 484)"><use href="#bs"/><text>PGR</text></g>
<g id="t-CACNA1B" transform="translate(610 484)"><use href="#bs"/><text>CACNA1B</text></g>
<g id="t-CYP19A1" transform="translate(659 484)"><use href="#bl"/><text>CYP19A1</text></g>
<g id="t-CYP2C9" transform="translate(708 484)"><use href="#bs"/><text>CYP2C9</text></g>
<g id="t-MC4R" transform="translate(757 484)"><use href="#bs"/><text>MC4R</text></g>
<g id="t-GCLC" transform="translate(807 484)"><use href="#bs"/><text>GCLC</text></g>
<g id="t-ADORA2A" transform="translate(856 484)"><use href="#bl"/><text>ADORA2A</text></g>
<g id="t-NR3C2" transform="translate(905 484)"><use href="#bs"/><text>NR3C2</text></g>
<g id="t-MTOR" transform="translate(167 509)"><use href="#bs"/><text>MTOR</text></g>
<g id="t-ACP1" transform="translate(216 509)"><use href="#bs"/><text>ACP1</text></g>
<g id="t-DPP4" transform="translate(265 509)"><use href="#bs"/><text>DPP4</text></g>
<g id="t-SELE" transform="translate(315 509)"><use href="#bs"/><text>SELE</text></g>
<g id="t-EZH2" transform="translate(364 509)"><use href="#bs"/><text>EZH2</text></g>
<g id="t-ADRB2" transform="translate(413 509)"><use href="#bs"/><text>ADRB2</text></g>
<g id="t-IGF1R" transform="translate(462 509)"><use href="#bm"/><text>IGF1R</text></g>
<g id="t-ATM" transform="translate(511 509)"><use href="#bs"/><text>ATM</text></g>
<g id="t-GSK3B" transform="translate(561 509)"><use href="#bm"/><text>GSK3B</text></g>
<g id="t-TGFBR1" transform="translate(610 509)"><use href="#bs"/><text>TGFBR1</text></g>
<g id="t-DRD1" transform="translate(659 509)"><use href="#bs"/><text>DRD1</text></g>
<g id="t-CTSD" transform="translate(708 509)"><use href="#bs"/><text>CTSD</text></g>
<g id="t-FGFR3" transform="translate(757 509)"><use href="#bs"/><text>FGFR3</text></g>
<g id="t-OPRK1" transform="translate(807 509)"><use href="#bs"/><text>OPRK1</text></g>
<g id="t-PIK3CA" transform="translate(856 509)"><use href="#bm"/><text>PIK3CA</text></g>
<g id="t-ADRB1" transform="translate(905 509)"><use href="#bs"/><text>ADRB1</text></g>
<g id="t-CTSK" transform="translate(167 533)"><use href="#bs"/><text>CTSK</text></g>
<g id="t-CYP17A1" transform="translate(216 533)"><use href="#bs"/><text>CYP17A1</text></g>
<g id="t-ALPL" transform="translate(265 533)"><use href="#bs"/><text>ALPL</text></g>
<g id="t-GBA" transform="translate(315 533)"><use href="#bm"/><text>GBA</text></g>
<g id="t-TRPV1" transform="translate(364 533)"><use href="#bs"/><text>TRPV1</text></g>
<g id="t-POLG" transform="translate(413 533)"><use href="#bs"/><text>POLG</text></g>
<g id="t-AVPR2" transform="translate(462 533)"><use href="#bs"/><text>AVPR2</text></g>
<g id="t-SCN5A" transform="translate(511 533)"><use href="#bs"/><text>SCN5A</text></g>
<g id="t-MMP9" transform="translate(561 533)"><use href="#bl"/><text>MMP9</text></g>
<g id="t-CASR" transform="translate(610 533)"><use href="#bs"/><text>CASR</text></g>
<g id="t-NOS2" transform="translate(659 533)"><use href="#bs"/><text>NOS2</text></g>
<g id="t-HIF1A" transform="translate(708 533)"><use href="#bs"/><text>HIF1A</text></g>
<g id="t-CHRM3" transform="translate(757 533)"><use href="#bs"/><text>CHRM3</text></g>
<g id="t-GSTP1" transform="translate(807 533)"><use href="#bs"/><text>GSTP1</text></g>
<g id="t-TGM2" transform="translate(856 533)"><use href="#bs"/><text>TGM2</text></g>
<g id="t-KCNH2" transform="translate(905 533)"><use href="#bs"/><text>KCNH2</text></g>
<g id="t-TLR4" transform="translate(167 558)"><use href="#bs"/><text>TLR4</text></g>
<g id="t-PER2" transform="translate(216 558)"><use href="#bs"/><text>PER2</text></g>
<g id="t-PRKD1" transform="translate(265 558)"><use href="#bs"/><text>PRKD1</text></g>
<g id="t-BACE1" transform="translate(315 558)"><use href="#bm"/><text>BACE1</text></g>
<g id="t-MB" transform="translate(364 558)"><use href="#bs"/><text>MB</text></g>
<g id="t-PDE4D" transform="translate(413 558)"><use href="#bs"/><text>PDE4D</text></g>
<g id="t-HLA-A" transform="translate(462 558)"><use href="#bs"/><text>HLA-A</text></g>
<g id="t-PLA2G2A" transform="translate(511 558)"><use href="#bs"/><text>PLA2G2A</text></g>
<g id="t-FGFR1" transform="translate(561 558)"><use href="#bs"/><text>FGFR1</text></g>
<g id="t-TNF" transform="translate(610 558)"><use href="#bm"/><text>TNF</text></g>
<g id="t-IL6" transform="translate(659 558)"><use href="#bs"/><text>IL6</text></g>
<g id="t-AGTR2" transform="translate(708 558)"><use href="#bs"/><text>AGTR2</text></g>
<g id="t-CHRNA7" transform="translate(757 558)"><use href="#bs"/><text>CHRNA7</text></g>
<g id="t-ADRA1A" transform="translate(807 558)"><use href="#bs"/><text>ADRA1A</text></g>
<g id="t-BRAF" transform="translate(856 558)"><use href="#bs"/><text>BRAF</text></g>
<g id="t-ABCG2" transform="translate(905 558)"><use href="#bm"/><text>ABCG2</text></g>
<g id="t-CASP8" transform="translate(167 583)"><use href="#bm"/><text>CASP8</text></g>
<g id="t-TYMP" transform="translate(216 583)"><use href="#bs"/><text>TYMP</text></g>
<g id="t-SIRT1" transform="translate(265 583)"><use href="#bs"/><text>SIRT1</text></g>
<g id="t-AKR1A1" transform="translate(315 583)"><use href="#bs"/><text>AKR1A1</text></g>
<g id="t-NOD2" transform="translate(364 583)"><use href="#bs"/><text>NOD2</text></g>
<g id="t-HMOX1" transform="translate(413 583)"><use href="#bs"/><text>HMOX1</text></g>
<g id="t-ALDH2" transform="translate(462 583)"><use href="#bm"/><text>ALDH2</text></g>
<g id="t-SLC6A4" transform="translate(511 583)"><use href="#bs"/><text>SLC6A4</text></g>
<g id="t-SELP" transform="translate(561 583)"><use href="#bs"/><text>SELP</text></g>
<g id="t-NR1I2" transform="translate(610 583)"><use href="#bs"/><text>NR1I2</text></g>
<g id="t-INSR" transform="translate(659 583)"><use href="#bs"/><text>INSR</text></g>
<g id="t-ADRA2B" transform="translate(708 583)"><use href="#bs"/><text>ADRA2B</text></g>
<g id="t-CHRM1" transform="translate(757 583)"><use href="#bs"/><text>CHRM1</text></g>
<g id="t-PIK3CG" transform="translate(807 583)"><use href="#bs"/><text>PIK3CG</text></g>
<g id="t-CTSB" transform="translate(856 583)"><use href="#bs"/><text>CTSB</text></g>
<g id="t-PLG" transform="translate(905 583)"><use href="#bm"/><text>PLG</text></g>
<g id="t-PRKCE" transform="translate(167 607)"><use href="#bs"/><text>PRKCE</text></g>
<g id="t-KDR" transform="translate(216 607)"><use href="#bm"/><text>KDR</text></g>
<g id="t-MAPT" transform="translate(265 607)"><use href="#bs"/><text>MAPT</text></g>
<g id="t-NPPA" transform="translate(315 607)"><use href="#bs"/><text>NPPA</text></g>
<g id="t-MMP2" transform="translate(364 607)"><use href="#bl"/><text>MMP2</text></g>
<g id="t-TP53" transform="translate(413 607)"><use href="#bs"/><text>TP53</text></g>
<g id="t-FTO" transform="translate(462 607)"><use href="#bm"/><text>FTO</text></g>
<g id="t-DNMT3A" transform="translate(511 607)"><use href="#bs"/><text>DNMT3A</text></g>
<g id="t-BCHE" transform="translate(561 607)"><use href="#bs"/><text>BCHE</text></g>
<g id="t-NR3C1" transform="translate(610 607)"><use href="#bs"/><text>NR3C1</text></g>
<g id="t-SRC" transform="translate(659 607)"><use href="#bm"/><text>SRC</text></g>
<g id="t-SCN4A" transform="translate(708 607)"><use href="#bs"/><text>SCN4A</text></g>
<g id="t-FHIT" transform="translate(757 607)"><use href="#bs"/><text>FHIT</text></g>
<g id="t-CACNA1C" transform="translate(807 607)"><use href="#bs"/><text>CACNA1C</text></g>
<g id="t-OPRD1" transform="translate(856 607)"><use href="#bs"/><text>OPRD1</text></g>
<g id="t-NRP1" transform="translate(905 607)"><use href="#bs"/><text>NRP1</text></g>
<g id="t-IL1B" transform="translate(167 632)"><use href="#bs"/><text>IL1B</text></g>
<g id="t-ADRB3" transform="translate(216 632)"><use href="#bs"/><text>ADRB3</text></g>
<g id="t-VCAM1" transform="translate(265 632)"><use href="#bs"/><text>VCAM1</text></g>
<g id="t-HTT" transform="translate(315 632)"><use href="#bs"/><text>HTT</text></g>
<g id="t-PTGS2" transform="translate(364 632)"><use href="#bl"/><text>PTGS2</text></g>
<g id="t-AOC3" transform="translate(413 632)"><use href="#bs"/><text>AOC3</text></g>
<g id="t-ADAM17" transform="translate(462 632)"><use href="#bs"/><text>ADAM17</text></g>
<g id="t-CXCL8" transform="translate(511 632)"><use href="#bs"/><text>CXCL8</text></g>
<g id="t-COMT" transform="translate(561 632)"><use href="#bs"/><text>COMT</text></g>
<g id="t-VDR" transform="translate(610 632)"><use href="#bs"/><text>VDR</text></g>
<g id="t-FGF2" transform="translate(659 632)"><use href="#bs"/><text>FGF2</text></g>
<g id="t-MMP3" transform="translate(708 632)"><use href="#bm"/><text>MMP3</text></g>
<g id="t-ADA" transform="translate(757 632)"><use href="#bs"/><text>ADA</text></g>
<g id="t-SLC6A2" transform="translate(807 632)"><use href="#bm"/><text>SLC6A2</text></g>
<g id="t-CHRM2" transform="translate(856 632)"><use href="#bs"/><text>CHRM2</text></g>
<g id="t-CFTR" transform="translate(905 632)"><use href="#bs"/><text>CFTR</text></g>
<g id="t-AHCY" transform="translate(167 656)"><use href="#bs"/><text>AHCY</text></g>
<g id="t-CYP2D6" transform="translate(216 656)"><use href="#bs"/><text>CYP2D6</text></g>
<g id="t-OPRM1" transform="translate(265 656)"><use href="#bm"/><text>OPRM1</text></g>
<g id="t-ICAM1" transform="translate(315 656)"><use href="#bs"/><text>ICAM1</text></g>
<g id="t-NFKBIA" transform="translate(364 656)"><use href="#bs"/><text>NFKBIA</text></g>
<g id="t-CYP1A2" transform="translate(413 656)"><use href="#bs"/><text>CYP1A2</text></g>
<g id="t-HTR2A" transform="translate(462 656)"><use href="#bs"/><text>HTR2A</text></g>
<g id="t-PPARD" transform="translate(511 656)"><use href="#bs"/><text>PPARD</text></g>
<g id="t-CASP1" transform="translate(561 656)"><use href="#bm"/><text>CASP1</text></g>
<g id="t-CALM1" transform="translate(610 656)"><use href="#bs"/><text>CALM1</text></g>
<g id="t-IL2" transform="translate(659 656)"><use href="#bs"/><text>IL2</text></g>
<g id="t-SNCA" transform="translate(708 656)"><use href="#bs"/><text>SNCA</text></g>
<g id="t-ADORA1" transform="translate(757 656)"><use href="#bl"/><text>ADORA1</text></g>
<g id="t-REN" transform="translate(807 656)"><use href="#bs"/><text>REN</text></g>
<g id="t-VCP" transform="translate(856 656)"><use href="#bs"/><text>VCP</text></g>
<g id="t-NOS3" transform="translate(905 656)"><use href="#bs"/><text>NOS3</text></g>
<g id="t-GCG" transform="translate(167 681)"><use href="#bs"/><text>GCG</text></g>
<g id="t-DYRK1A" transform="translate(216 681)"><use href="#bm"/><text>DYRK1A</text></g>
<g id="t-MAP3K5" transform="translate(265 681)"><use href="#bs"/><text>MAP3K5</text></g>
<g id="t-ADRA2A" transform="translate(315 681)"><use href="#bm"/><text>ADRA2A</text></g>
<g id="t-SELL" transform="translate(364 681)"><use href="#bm"/><text>SELL</text></g>
<g id="t-EP300" transform="translate(413 681)"><use href="#bs"/><text>EP300</text></g>
<g id="t-HMGCR" transform="translate(462 681)"><use href="#bm"/><text>HMGCR</text></g>
<g id="t-CYP2B6" transform="translate(511 681)"><use href="#bs"/><text>CYP2B6</text></g>
<g id="t-FN1" transform="translate(561 681)"><use href="#bs"/><text>FN1</text></g>
<g id="t-CXCR3" transform="translate(610 681)"><use href="#bs"/><text>CXCR3</text></g>
<g id="t-PARP1" transform="translate(659 681)"><use href="#bl"/><text>PARP1</text></g>
<g id="t-FGF1" transform="translate(708 681)"><use href="#bs"/><text>FGF1</text></g>
<g id="t-PPARA" transform="translate(757 681)"><use href="#bs"/><text>PPARA</text></g>
<g id="t-ABCB1" transform="translate(807 681)"><use href="#bm"/><text>ABCB1</text></g>
<g id="t-TYR" transform="translate(856 681)"><use href="#bm"/><text>TYR</text></g>
<g id="t-HRH2" transform="translate(905 681)"><use href="#bs"/><text>HRH2</text></g>
<g id="t-LIMK1" transform="translate(167 706)"><use href="#bs"/><text>LIMK1</text></g>
<g id="t-AGTR1" transform="translate(216 706)"><use href="#bs"/><text>AGTR1</text></g>
<g id="t-HRAS" transform="translate(265 706)"><use href="#bs"/><text>HRAS</text></g>
<g id="t-TNFRSF1A" transform="translate(315 706)"><use href="#bs"/><text>TNFRSF1A</text></g>
<g id="t-FAAH" transform="translate(364 706)"><use href="#bs"/><text>FAAH</text></g>
<g id="t-AR" transform="translate(413 706)"><use href="#bm"/><text>AR</text></g>
<g id="t-CYP1A1" transform="translate(462 706)"><use href="#bs"/><text>CYP1A1</text></g>
<g id="t-GAPDH" transform="translate(511 706)"><use href="#bm"/><text>GAPDH</text></g>
<g id="t-STAT3" transform="translate(561 706)"><use href="#bs"/><text>STAT3</text></g>
<g id="t-CNR2" transform="translate(610 706)"><use href="#bs"/><text>CNR2</text></g>
<g id="t-MAPK10" transform="translate(659 706)"><use href="#bs"/><text>MAPK10</text></g>
<g id="t-ALOX12" transform="translate(708 706)"><use href="#bs"/><text>ALOX12</text></g>
<g id="t-PRKCA" transform="translate(757 706)"><use href="#bs"/><text>PRKCA</text></g>
<g id="t-ESR2" transform="translate(807 706)"><use href="#bl"/><text>ESR2</text></g>
</g>
<g id="compounds">
<g id="c03" transform="translate(610 23)"><use href="#bo"/><circle r="11.5" class="pu"/><text>Tagecoumarin</text></g>
<g id="c71" transform="translate(445 23)"><use href="#bo"/><circle r="11.5" class="pu"/><text>Yunnaneic acid</text></g>
<g id="c72" transform="translate(486 18)"><use href="#bo"/><circle r="11.5" class="pu"/><text>Sagerinic acid</text></g>
<g id="c01" transform="translate(528 16)"><use href="#bo"/><circle r="11.5" class="pu"/><text>Labiatenic acid</text></g>
<g id="c02" transform="translate(569 18)"><use href="#bo"/><circle r="11.5" class="pu"/><text>Aesculetin</text></g>
<g id="c04" transform="translate(651 32)"><use href="#bo"/><circle r="11.5" class="pu"/><text><tspan x="0" y="-14.5">Scutellarein</tspan><tspan x="0" y="0.5">5,6,7,4'-tetramethyl</tspan><tspan x="0" y="15">ether</tspan></text></g>
<g id="c05" transform="translate(690 45)"><use href="#bo"/><circle r="11.5" class="pu"/><text><tspan x="0" y="-7">3,4-Dihydroxybenzoic</tspan><tspan x="0" y="7.5">acid</tspan></text></g>
<g id="c06" transform="translate(729 61)"><use href="#bo"/><circle r="11.5" class="pu"/><text>Przewalskin</text></g>
<g id="c07" transform="translate(766 80)"><use href="#bo"/><circle r="11.5" class="pu"/><text>Isosalvianolic acid C</text></g>
<g id="c08" transform="translate(801 102)"><use href="#bo"/><circle r="11.5" class="pu"/><text>Salvianolic acid B</text></g>
<g id="c09" transform="translate(834 127)"><use href="#bo"/><circle r="11.5" class="pu"/><text>Santin</text></g>
<g id="c10" transform="translate(864 155)"><use href="#bo"/><circle r="11.5" class="ye"/><text>Senkyunolide-K</text></g>
<g id="c11" transform="translate(892 186)"><use href="#bo"/><circle r="11.5" class="ye"/><text><tspan x="0" y="-7">3,5-Dicaffeoyl quinic</tspan><tspan x="0" y="8">acid</tspan></text></g>
<g id="c12" transform="translate(917 219)"><use href="#bo"/><circle r="11.5" class="ye"/><text>Dimethyl D-malate</text></g>
<g id="c13" transform="translate(940 254)"><use href="#bo"/><circle r="11.5" class="ye"/><text>Linoleic acid</text></g>
<g id="c14" transform="translate(959 291)"><use href="#bo"/><circle r="11.5" class="ye"/><text>3-Butylidene-7-hydroxyphthalide</text></g>
<g id="c15" transform="translate(975 329)"><use href="#bo"/><circle r="11.5" class="ye"/><text>Senkyunolide A</text></g>
<g id="c16" transform="translate(987 369)"><use href="#bo"/><circle r="11.5" class="ye"/><text>oleic acid</text></g>
<g id="c17" transform="translate(996 409)"><use href="#bo"/><circle r="11.5" class="ye"/><text>vanillin</text></g>
<g id="c18" transform="translate(1002 451)"><use href="#bo"/><circle r="11.5" class="ye"/><text><tspan x="0" y="-7.5">methyl</tspan><tspan x="0" y="7.5">2-pentanoylbenzoate</tspan></text></g>
<g id="c19" transform="translate(1004 492)"><use href="#bo"/><circle r="11.5" class="ye"/><text>sucrose</text></g>
<g id="c20" transform="translate(1002 533)"><use href="#bo"/><circle r="11.5" class="ye"/><text>Valerophenone</text></g>
<g id="c21" transform="translate(996 575)"><use href="#bo"/><circle r="11.5" class="ye"/><text>Crysophanol</text></g>
<g id="c22" transform="translate(987 615)"><use href="#bo"/><circle r="11.5" class="ye"/><text>2-Propionylfuran</text></g>
<g id="c23" transform="translate(975 655)"><use href="#bo"/><circle r="11.5" class="ye"/><text>senkyunolide-F</text></g>
<g id="c24" transform="translate(959 693)"><use href="#bo"/><circle r="11.5" class="ye"/><text>senkyunolide-D</text></g>
<g id="c25" transform="translate(940 730)"><use href="#bo"/><circle r="11.5" class="ye"/><text>Methyleugenol</text></g>
<g id="c26" transform="translate(917 765)"><use href="#bo"/><circle r="11.5" class="ye"/><text>adenine</text></g>
<g id="c27" transform="translate(892 798)"><use href="#bo"/><circle r="11.5" class="gr"/><text>regaloside B</text></g>
<g id="c28" transform="translate(864 829)"><use href="#bo"/><circle r="11.5" class="gr"/><text>Neryl acetate</text></g>
<g id="c29" transform="translate(834 857)"><use href="#bo"/><circle r="11.5" class="gr"/><text>O-Methylthymol</text></g>
<g id="c30" transform="translate(801 882)"><use href="#bo"/><circle r="11.5" class="gr"/><text>lilioside C</text></g>
<g id="c31" transform="translate(766 904)"><use href="#bo"/><circle r="11.5" class="gr"/><text>regaloside K</text></g>
<g id="c32" transform="translate(729 923)"><use href="#bo"/><circle r="11.5" class="gr"/><text>Clorius</text></g>
<g id="c33" transform="translate(690 939)"><use href="#bo"/><circle r="11.5" class="gr"/><text>cis-Anethol</text></g>
<g id="c34" transform="translate(651 952)"><use href="#bo"/><circle r="11.5" class="gr"/><text>regaloside A</text></g>
<g id="c39" transform="translate(445 961)"><use href="#bo"/><circle r="11.5" class="rd"/><text>6'''-Feruloylspinosin</text></g>
<g id="c40" transform="translate(404 952)"><use href="#bo"/><circle r="11.5" class="rd"/><text>norisocorydine</text></g>
<g id="c38" transform="translate(486 966)"><use href="#bo"/><circle r="11.5" class="rd"/><text>hesperidin</text></g>
<g id="c37" transform="translate(528 968)"><use href="#bo"/><circle r="11.5" class="gr"/><text>4-Hydroxybenzaldehyde</text></g>
<g id="c36" transform="translate(569 966)"><use href="#bo"/><circle r="11.5" class="gr"/><text>cis-3-Hexenyl acetate</text></g>
<g id="c35" transform="translate(610 961)"><use href="#bo"/><circle r="11.5" class="gr"/><text>1-O-feruloylglycerol</text></g>
<g id="c41" transform="translate(365 939)"><use href="#bo"/><circle r="11.5" class="rd"/><text>Spinosin</text></g>
<g id="c42" transform="translate(326 923)"><use href="#bo"/><circle r="11.5" class="rd"/><text>6'''-p-coumaloylspinosin</text></g>
<g id="c43" transform="translate(290 904)"><use href="#bo"/><path class="gr" d="M-11.5 0A11.5 11.5 0 0 1 11.5 0Z"/><path class="pu" d="M-11.5 0A11.5 11.5 0 0 0 11.5 0Z"/><text>trans-p-Coumaric acid</text></g>
<g id="c44" transform="translate(254 882)"><use href="#bo"/><path class="ye" d="M-11.5 0A11.5 11.5 0 0 1 11.5 0Z"/><path class="pu" d="M-11.5 0A11.5 11.5 0 0 0 11.5 0Z"/><text>Ferulic acid</text></g>
<g id="c45" transform="translate(221 857)"><use href="#bo"/><path class="gr" d="M-11.5 0A11.5 11.5 0 0 1 11.5 0Z"/><path class="ye" d="M-11.5 0A11.5 11.5 0 0 0 11.5 0Z"/><text>2-Methoxy-4-vinylphenol</text></g>
<g id="c46" transform="translate(191 829)"><use href="#bo"/><circle r="11.5" class="pu"/><text>Lithospermic acid</text></g>
<g id="c47" transform="translate(163 798)"><use href="#bo"/><circle r="11.5" class="pu"/><text>4-Hydroxybenzoic acid</text></g>
<g id="c48" transform="translate(138 765)"><use href="#bo"/><circle r="11.5" class="pu"/><text>3-O-Caffeoylquinic acid</text></g>
<g id="c49" transform="translate(115 730)"><use href="#bo"/><circle r="11.5" class="pu"/><text>Salvianolic acid A</text></g>
<g id="c50" transform="translate(96 693)"><use href="#bo"/><circle r="11.5" class="pu"/><text>Baicalin</text></g>
<g id="c51" transform="translate(80 655)"><use href="#bo"/><circle r="11.5" class="pu"/><text>Vanillic acid</text></g>
<g id="c52" transform="translate(68 615)"><use href="#bo"/><circle r="11.5" class="pu"/><text>Methyl rosmarinate</text></g>
<g id="c53" transform="translate(59 575)"><use href="#bo"/><circle r="11.5" class="pu"/><text>Danshenxinkun B</text></g>
<g id="c54" transform="translate(53 533)"><use href="#bo"/><circle r="11.5" class="pu"/><text>Przewalskinic acid A</text></g>
<g id="c55" transform="translate(51 492)"><use href="#bo"/><circle r="11.5" class="pu"/><text>Neocryptotanshinone</text></g>
<g id="c56" transform="translate(53 451)"><use href="#bo"/><circle r="11.5" class="pu"/><text>Przewalskin D</text></g>
<g id="c57" transform="translate(59 409)"><use href="#bo"/><circle r="11.5" class="pu"/><text>Salviaflaside</text></g>
<g id="c58" transform="translate(68 369)"><use href="#bo"/><circle r="11.5" class="pu"/><text>Pisiferic acid</text></g>
<g id="c59" transform="translate(80 329)"><use href="#bo"/><circle r="11.5" class="pu"/><text>Danshenxinkun A</text></g>
<g id="c60" transform="translate(96 291)"><use href="#bo"/><circle r="11.5" class="pu"/><text>Caffeic acid</text></g>
<g id="c61" transform="translate(115 254)"><use href="#bo"/><circle r="11.5" class="pu"/><text>Danshensu</text></g>
<g id="c62" transform="translate(138 219)"><use href="#bo"/><circle r="11.5" class="pu"/><text>Cosmosiin</text></g>
<g id="c63" transform="translate(163 186)"><use href="#bo"/><circle r="11.5" class="pu"/><text>Methyl melitrate A</text></g>
<g id="c64" transform="translate(191 155)"><use href="#bo"/><circle r="11.5" class="pu"/><text>Cirsimaritin</text></g>
<g id="c65" transform="translate(221 127)"><use href="#bo"/><circle r="11.5" class="pu"/><text>1,2-Dihydrotanshinone</text></g>
<g id="c66" transform="translate(254 102)"><use href="#bo"/><circle r="11.5" class="pu"/><text>Picein</text></g>
<g id="c67" transform="translate(290 80)"><use href="#bo"/><circle r="11.5" class="pu"/><text>Divinatorin A</text></g>
<g id="c68" transform="translate(326 61)"><use href="#bo"/><circle r="11.5" class="pu"/><text>Sugiol</text></g>
<g id="c69" transform="translate(365 45)"><use href="#bo"/><circle r="11.5" class="pu"/><text>Salvianolic acid D</text></g>
<g id="c70" transform="translate(404 32)"><use href="#bo"/><circle r="11.5" class="pu"/><text>Saprionide</text></g>
</g>
</svg>
